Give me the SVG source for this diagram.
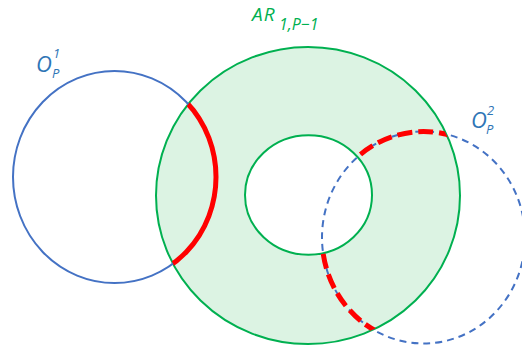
<svg xmlns="http://www.w3.org/2000/svg" width="522" height="347" viewBox="0 0 522 347">
<style>
.grn{stroke:#00b050;stroke-width:2;}
.blu{fill:none;stroke:#4472c4;stroke-width:2;}
.red{fill:none;stroke:#ff0000;stroke-width:5;}
.lbl{font-family:"Open Sans","Noto Sans",sans-serif;font-style:italic;}
</style>
<defs>
<clipPath id="ann">
<path clip-rule="evenodd" d="M156,195.5 a152,148.5 0 1,0 304,0 a152,148.5 0 1,0 -304,0 Z M245,195 a63.5,59.7 0 1,0 127,0 a63.5,59.7 0 1,0 -127,0 Z"/>
</clipPath>
</defs>
<rect width="522" height="347" fill="#ffffff"/>
<g id="annulus">
<path class="grn" fill="#dcf3e3" fill-rule="evenodd" d="M156,195.5 a152,148.5 0 1,0 304,0 a152,148.5 0 1,0 -304,0 Z M245,195 a63.5,59.7 0 1,0 127,0 a63.5,59.7 0 1,0 -127,0 Z"/>
</g>
<g id="O1">
<ellipse class="blu" cx="114.5" cy="177" rx="101.5" ry="106"/>
<ellipse class="red" cx="114.5" cy="177" rx="101.5" ry="106" clip-path="url(#ann)"/>
</g>
<g id="O2">
<ellipse class="blu" cx="423.5" cy="237.5" rx="101.5" ry="106" stroke-dasharray="7 5"/>
<ellipse class="red" cx="423.5" cy="237.5" rx="101.5" ry="106" stroke-width="6" stroke-dasharray="15 6" clip-path="url(#ann)"/>
</g>
<g id="labels">
<text class="lbl" x="36" y="72" font-size="22" fill="#2e75b6">O</text>
<text class="lbl" x="53" y="58" font-size="13" fill="#2e75b6">1</text>
<text class="lbl" x="52" y="78" font-size="13" fill="#2e75b6">P</text>
<text class="lbl" x="252" y="21" font-size="19" letter-spacing="1" fill="#00b050">AR</text>
<text class="lbl" x="279" y="30" font-size="16" fill="#00b050">1,P−1</text>
<text class="lbl" x="471" y="128" font-size="22" fill="#2e75b6">O</text>
<text class="lbl" x="487" y="115" font-size="13" fill="#2e75b6">2</text>
<text class="lbl" x="486" y="134" font-size="13" fill="#2e75b6">P</text>
</g>
</svg>
